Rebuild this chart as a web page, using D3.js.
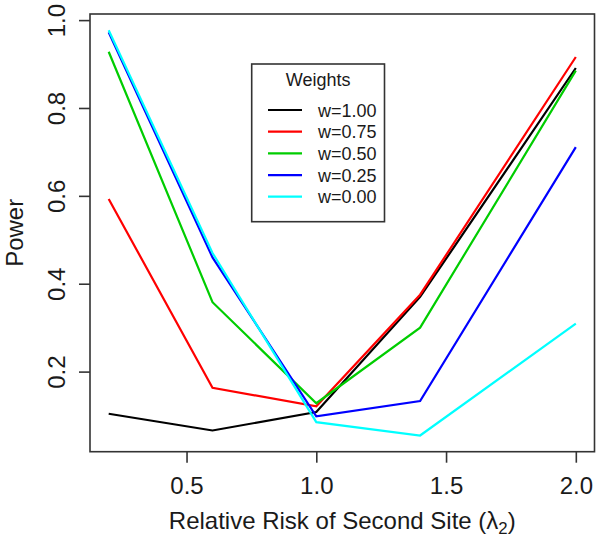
<!DOCTYPE html>
<html>
<head>
<meta charset="utf-8">
<script src="https://cdn.jsdelivr.net/npm/d3@7"></script>
<style>
  html, body { margin: 0; padding: 0; background: #fff; }
  svg { display: block; font-family: "Liberation Sans", Arial, sans-serif; }
</style>
</head>
<body>
<svg id="chart" width="600" height="541"></svg>
<script>
// ---- data ----
const xValues = [0.2, 0.6, 1.0, 1.4, 2.0];
const w100 = [0.104, 0.066, 0.108, 0.370, 0.891];
const w075 = [0.593, 0.163, 0.121, 0.375, 0.916];
const w050 = [0.928, 0.358, 0.128, 0.300, 0.885];
const w025 = [0.972, 0.460, 0.098, 0.133, 0.711];
const w000 = [0.977, 0.470, 0.085, 0.0546, 0.309];
const seriesNames = ["w=1.00", "w=0.75", "w=0.50", "w=0.25", "w=0.00"];
const seriesColors = ["#000000", "#FF0000", "#00CD00", "#0000FF", "#00FFFF"];
const xTicks = [0.5, 1.0, 1.5, 2.0];
const yTicks = [0.2, 0.4, 0.6, 0.8, 1.0];
const legendTitle = "Weights";
const yLabel = "Power";

const series = [w100, w075, w050, w025, w000];

// ---- layout ----
const svg = d3.select("#chart");
const pL = 90, pR = 594.5, pT = 14, pB = 451.7;

function padExtent(vals) {
  const [a, b] = d3.extent(vals);
  const p = 0.04 * (b - a);
  return [a - p, b + p];
}
const x = d3.scaleLinear().domain(padExtent(xValues)).range([pL, pR]);
const y = d3.scaleLinear().domain(padExtent(series.flat())).range([pB, pT]);

const axisFont = 24;
const textColor = "#1a1a1a";

// lines
const line = d3.line().x((d, i) => x(xValues[i])).y(d => y(d));
svg.append("g").selectAll("path").data(series).join("path")
  .attr("d", d => line(d))
  .attr("fill", "none")
  .attr("stroke", (d, i) => seriesColors[i])
  .attr("stroke-width", 2.2)
  .attr("stroke-linejoin", "miter");

// box
svg.append("rect")
  .attr("x", pL).attr("y", pT)
  .attr("width", pR - pL).attr("height", pB - pT)
  .attr("fill", "none").attr("stroke", "#333").attr("stroke-width", 1.6);

// x axis
const xAxis = d3.axisBottom(x).tickValues(xTicks).tickFormat(d3.format(".1f")).tickSize(11).tickPadding(0);
const gx = svg.append("g").attr("transform", `translate(0,${pB})`).call(xAxis);
gx.select(".domain").remove();
gx.selectAll(".tick line").attr("stroke", "#333").attr("stroke-width", 1.6);
gx.selectAll(".tick text")
  .attr("y", 494.5 - pB).attr("dy", null)
  .attr("font-size", axisFont).attr("fill", textColor)
  .attr("font-family", "Liberation Sans, Arial, sans-serif");

// y axis
const yAxis = d3.axisLeft(y).tickValues(yTicks).tickFormat(d3.format(".1f")).tickSize(11).tickPadding(0);
const gy = svg.append("g").attr("transform", `translate(${pL},0)`).call(yAxis);
gy.select(".domain").remove();
gy.selectAll(".tick line").attr("stroke", "#333").attr("stroke-width", 1.6);
gy.selectAll(".tick text")
  .attr("x", null).attr("dy", null)
  .attr("text-anchor", "middle")
  .attr("transform", `translate(${65 - pL},0) rotate(-90)`)
  .attr("font-size", axisFont).attr("fill", textColor)
  .attr("font-family", "Liberation Sans, Arial, sans-serif");

// axis titles
const xt = svg.append("text")
  .attr("x", (pL + pR) / 2).attr("y", 529)
  .attr("text-anchor", "middle")
  .attr("font-size", axisFont).attr("fill", textColor);
xt.append("tspan").text("Relative Risk of Second Site (λ");
xt.append("tspan").attr("font-size", axisFont * 0.7).attr("dy", 5).text("2");
xt.append("tspan").attr("dy", -5).text(")");

svg.append("text")
  .attr("transform", `translate(23,${(pT + pB) / 2}) rotate(-90)`)
  .attr("text-anchor", "middle")
  .attr("font-size", axisFont).attr("fill", textColor)
  .text(yLabel);

// legend
const lgFont = 18;
const lg = { x0: 251.7, y0: 64, x1: 384.5, y1: 221.7 };
const lgg = svg.append("g");
lgg.append("rect")
  .attr("x", lg.x0).attr("y", lg.y0)
  .attr("width", lg.x1 - lg.x0).attr("height", lg.y1 - lg.y0)
  .attr("fill", "#fff").attr("stroke", "#333").attr("stroke-width", 1.6);
lgg.append("text")
  .attr("x", (lg.x0 + lg.x1) / 2).attr("y", 86)
  .attr("text-anchor", "middle")
  .attr("font-size", lgFont).attr("fill", textColor)
  .text(legendTitle);
const rowY = d3.scaleLinear().domain([0, 4]).range([110, 196.7]);
const rows = lgg.selectAll("g.row").data(seriesNames).join("g").attr("class", "row");
rows.append("line")
  .attr("x1", 268).attr("x2", 302)
  .attr("y1", (d, i) => rowY(i)).attr("y2", (d, i) => rowY(i))
  .attr("stroke", (d, i) => seriesColors[i]).attr("stroke-width", 2.2);
rows.append("text")
  .attr("x", 318).attr("y", (d, i) => rowY(i) + 6.5)
  .attr("font-size", lgFont).attr("fill", textColor)
  .text(d => d);
</script>
</body>
</html>
